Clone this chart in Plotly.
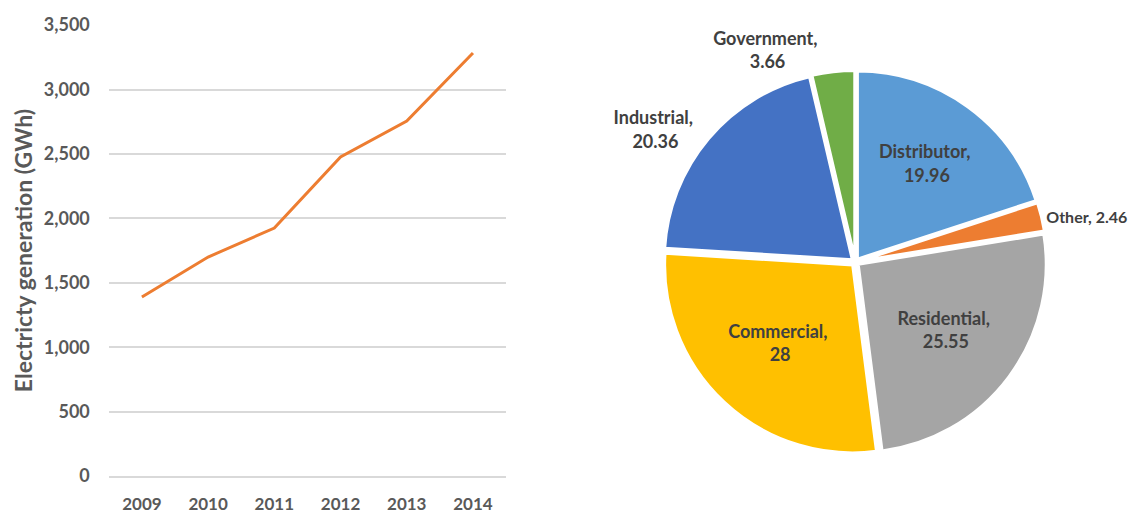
import plotly.graph_objects as go

years = ["2009", "2010", "2011", "2012", "2013", "2014"]
generation = [1390, 1700, 1925, 2477, 2756, 3284]
y_ticks = [0, 500, 1000, 1500, 2000, 2500, 3000, 3500]

sectors = ["Distributor", "Other", "Residential", "Commercial", "Industrial", "Government"]
shares = [19.96, 2.46, 25.55, 28, 20.36, 3.66]
sector_colors = ["#5B9BD5", "#ED7D31", "#A5A5A5", "#FFC000", "#4472C4", "#70AD47"]
text_pos = ["inside", "outside", "inside", "inside", "outside", "outside"]
labels_txt = ["Distributor, <br>19.96", "Other, 2.46", "Residential, <br>25.55",
              "Commercial, <br>28", "Industrial, <br>20.36", "Government, <br>3.66"]

FONT = "Lato"
GRAY = "#595959"

fig = go.Figure()
fig.add_trace(go.Scatter(x=years, y=generation, mode="lines",
                         line=dict(color="#ED7D31", width=3), showlegend=False,
                         xaxis="x", yaxis="y"))
fig.add_trace(go.Pie(labels=sectors, values=shares, sort=False, direction="clockwise",
                     rotation=0, marker=dict(colors=sector_colors, line=dict(color="white", width=3)),
                     text=labels_txt, textinfo="text", textposition=text_pos,
                     insidetextorientation="horizontal",
                     textfont=dict(family=FONT, size=[18, 16, 18, 18, 18, 18],
                                   color="#404040", weight="bold"),
                     pull=[0.02] * 6, showlegend=False, hoverinfo="label+value",
                     domain=dict(x=[0.583, 0.920], y=[0.11, 0.868])))

fig.update_layout(
    width=1140, height=513, autosize=False, margin=dict(l=0, r=0, t=0, b=0),
    paper_bgcolor="white", plot_bgcolor="white",
    xaxis=dict(domain=[0.0956, 0.4447], type="category", range=[-0.5, 5.5], showgrid=False,
               showline=True, linecolor="#D9D9D9", linewidth=1.5, ticks="",
               tickfont=dict(family=FONT, size=17, color=GRAY, weight="bold"),
               ticklabelstandoff=12, automargin=False),
    yaxis=dict(domain=[0.072, 0.951], range=[0, 3500], tickvals=y_ticks,
               tickformat=",d", showgrid=True, gridcolor="#D9D9D9", gridwidth=1.5,
               zeroline=False, showline=False, ticks="",
               tickfont=dict(family=FONT, size=18, color=GRAY, weight="bold"),
               ticklabelstandoff=18, automargin=False,
               title=dict(text="Electricty generation (GWh)", standoff=4,
                          font=dict(family=FONT, size=23, color=GRAY, weight="bold"))),
)

fig.write_html("out.html", config={"displayModeBar": False, "responsive": False},
               post_script="document.body.style.margin='0';document.body.style.overflow='hidden';"
                           "document.documentElement.style.overflow='hidden';")
